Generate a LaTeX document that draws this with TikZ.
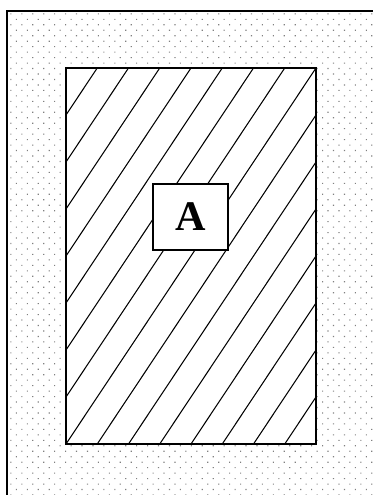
\documentclass[tikz,border=0pt]{standalone}
\usepackage{fontspec}
\setmainfont{Liberation Serif}
\usepackage{tikz}
\usetikzlibrary{patterns.meta}

\begin{document}
\begin{tikzpicture}[scale=1.0]
  \useasboundingbox (0,0) rectangle (7.44,9.9);
  % dotted ground
  \fill[pattern={Dots[radius=0.45pt, distance=4.4pt, angle=45]}, pattern color=gray] (0.14,-0.5) rectangle (8,9.68);
  \draw[line width=1.1pt] (0.14,-0.5) -- (0.14,9.68) -- (8,9.68);
  % hatched region
  \fill[white] (1.32,1.02) rectangle (6.32,8.54);
  \begin{scope}
    \clip (1.32,1.02) rectangle (6.32,8.54);
    \foreach \k in {-7,...,7}
      \draw[line width=0.6pt] (1.32+\k*0.625,1.02) -- (6.32+\k*0.625,8.54);
  \end{scope}
  \draw[line width=1.1pt] (1.32,1.02) rectangle (6.32,8.54);
  % label
  \node[draw, line width=1.1pt, fill=white, minimum width=1.5cm, minimum height=1.32cm,
        font=\fontsize{24}{28}\selectfont\bfseries] (lblA) at (3.81,5.56) {A};
\end{tikzpicture}
\end{document}
